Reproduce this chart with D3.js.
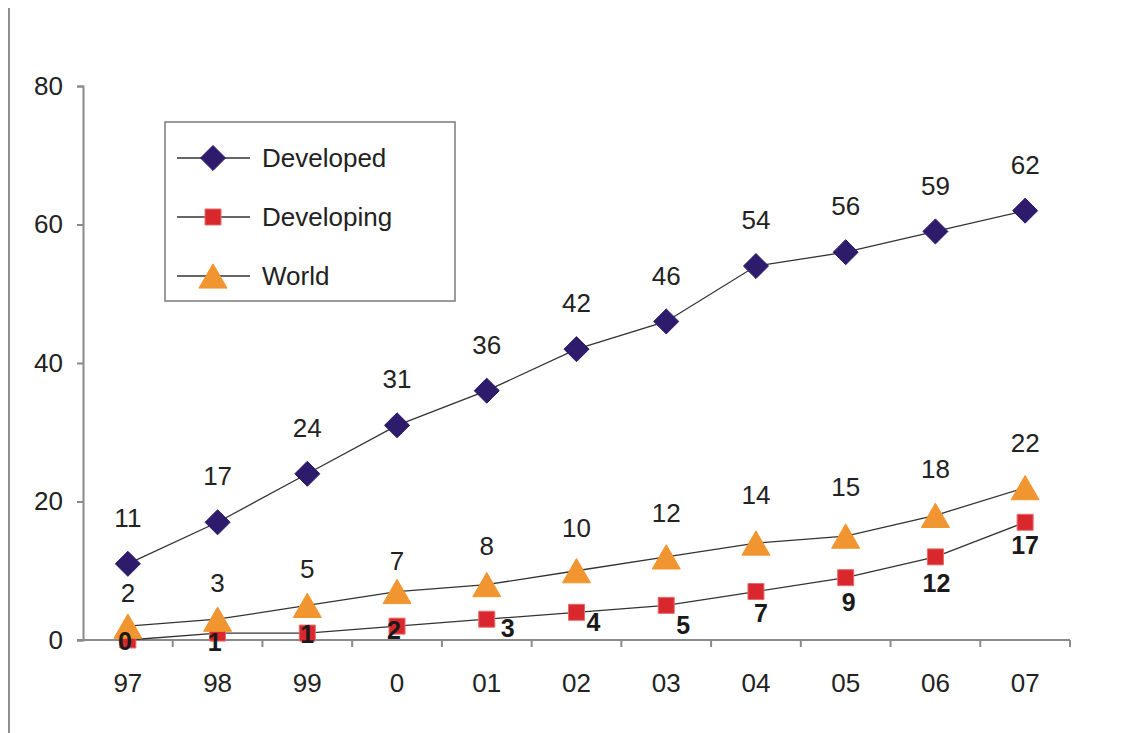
<!DOCTYPE html>
<html>
<head>
<meta charset="utf-8">
<script src="https://cdn.jsdelivr.net/npm/d3@7"></script>
<style>
  html, body { margin: 0; padding: 0; background: #fff; }
  svg { display: block; font-family: "Liberation Sans", Arial, sans-serif; }
</style>
</head>
<body>
<svg id="chart" width="1138" height="733"></svg>
<script>
// Years on the category axis
const years = ["97", "98", "99", "0", "01", "02", "03", "04", "05", "06", "07"];

// Series values
const developed  = [11, 17, 24, 31, 36, 42, 46, 54, 56, 59, 62];
const developing = [0, 1, 1, 2, 3, 4, 5, 7, 9, 12, 17];
const world      = [2, 3, 5, 7, 8, 10, 12, 14, 15, 18, 22];

// Value-axis ticks
const yTicks = [0, 20, 40, 60, 80];

// Label placement tweaks (pixels) so labels clear the markers
const worldLabelDy      = [-33, -36, -36, -31, -39, -43, -44, -48, -49, -46, -45];
const developingLabelDx = [-3, -3, 0, -3, 21, 17, 17, 5, 3, 1, 0];
const developingLabelDy = [1, 9, 1, 4, 9, 10, 20, 22, 25, 26, 23];

const svg = d3.select("#chart");

const x0 = 83, x1 = 1070, yTop = 86, yBottom = 640;
const fontSize = 26;

const x = d3.scaleBand().domain(years).range([x0, x1]).padding(0);
const y = d3.scaleLinear().domain([0, 80]).range([yBottom, yTop]);
const cx = d => x(d) + x.bandwidth() / 2;

const axisColor = "#8a8a8a";
const textColor = "#222";

// Frame line on the far left
svg.append("line")
  .attr("x1", 9).attr("x2", 9).attr("y1", 8).attr("y2", 733)
  .attr("stroke", "#6a6a6a").attr("stroke-width", 1.5);

// Y axis
const yAxis = svg.append("g")
  .attr("transform", `translate(${x0},0)`)
  .call(d3.axisLeft(y).tickValues(yTicks).tickSize(6).tickPadding(14).tickFormat(d3.format("d")));
yAxis.select(".domain").attr("stroke", axisColor).attr("stroke-width", 2);
yAxis.selectAll(".tick line").attr("stroke", axisColor).attr("stroke-width", 2);
yAxis.selectAll(".tick text").attr("fill", textColor).attr("font-size", fontSize)
  .attr("font-family", "Liberation Sans, Arial, sans-serif");

// X axis: ticks sit between categories
const xAxisG = svg.append("g").attr("transform", `translate(0,${yBottom})`);
xAxisG.append("line")
  .attr("x1", x0 - 6).attr("x2", x1).attr("y1", 0).attr("y2", 0)
  .attr("stroke", axisColor).attr("stroke-width", 2);
const bounds = years.map(d => x(d)).concat([x1]);
xAxisG.selectAll("line.tk").data(bounds.slice(1)).join("line")
  .attr("class", "tk")
  .attr("x1", d => d).attr("x2", d => d).attr("y1", 0).attr("y2", 7)
  .attr("stroke", axisColor).attr("stroke-width", 2);
xAxisG.selectAll("text").data(years).join("text")
  .attr("x", d => cx(d)).attr("y", 43)
  .attr("dy", "0.35em")
  .attr("text-anchor", "middle")
  .attr("font-size", fontSize).attr("fill", textColor)
  .text(d => d);

// Marker shapes
const diamond = d3.symbol().type(d3.symbolDiamond2).size(400);
const square = d3.symbol().type(d3.symbolSquare).size(256);
const triangle = d3.symbol().type(d3.symbolTriangle).size(340);

const series = [
  { name: "Developed",  values: developed,  color: "#2e1b6c", stroke: "#2e1b6c", shape: diamond,  dy: 0 },
  { name: "Developing", values: developing, color: "#d8282e", stroke: "#e86a6a", shape: square,   dy: 0 },
  { name: "World",      values: world,      color: "#f0952f", stroke: "#f0952f", shape: triangle, dy: 4 }
];

const line = d3.line().x((d, i) => cx(years[i])).y(d => y(d));

// Lines first, then markers on top
series.forEach(s => {
  svg.append("path")
    .datum(s.values)
    .attr("d", line)
    .attr("fill", "none")
    .attr("stroke", "#333")
    .attr("stroke-width", 1.3);
});

series.forEach(s => {
  svg.append("g").selectAll("path").data(s.values).join("path")
    .attr("d", s.shape)
    .attr("transform", (d, i) => `translate(${cx(years[i])},${y(d) + s.dy})`)
    .attr("fill", s.color)
    .attr("stroke", s.stroke)
    .attr("stroke-width", 1);
});

// Data labels
const fmt = d3.format("d");
svg.append("g").selectAll("text").data(developed).join("text")
  .attr("x", (d, i) => cx(years[i]))
  .attr("y", d => y(d) - 46)
  .attr("dy", "0.35em")
  .attr("text-anchor", "middle")
  .attr("font-size", fontSize).attr("fill", textColor)
  .text(fmt);

svg.append("g").selectAll("text").data(world).join("text")
  .attr("x", (d, i) => cx(years[i]))
  .attr("y", (d, i) => y(d) + worldLabelDy[i])
  .attr("dy", "0.35em")
  .attr("text-anchor", "middle")
  .attr("font-size", fontSize).attr("fill", textColor)
  .text(fmt);

svg.append("g").selectAll("text").data(developing).join("text")
  .attr("x", (d, i) => cx(years[i]) + developingLabelDx[i])
  .attr("y", (d, i) => y(d) + developingLabelDy[i])
  .attr("dy", "0.35em")
  .attr("text-anchor", "middle")
  .attr("font-size", 25).attr("font-weight", "bold").attr("fill", "#1a1a1a")
  .text(fmt);

// Legend
const legend = svg.append("g");
legend.append("rect")
  .attr("x", 165).attr("y", 122).attr("width", 290).attr("height", 179)
  .attr("fill", "#fff").attr("stroke", "#7a7a7a").attr("stroke-width", 1.5);
const legendRows = [158, 217, 276];
series.forEach((s, i) => {
  const ly = legendRows[i];
  legend.append("line")
    .attr("x1", 177).attr("x2", 250).attr("y1", ly).attr("y2", ly)
    .attr("stroke", "#333").attr("stroke-width", 1.3);
  legend.append("path")
    .attr("d", s.shape)
    .attr("transform", `translate(213,${ly + s.dy})`)
    .attr("fill", s.color).attr("stroke", s.stroke).attr("stroke-width", 1);
  legend.append("text")
    .attr("x", 262).attr("y", ly).attr("dy", "0.35em")
    .attr("font-size", fontSize).attr("fill", textColor)
    .text(s.name);
});
</script>
</body>
</html>
